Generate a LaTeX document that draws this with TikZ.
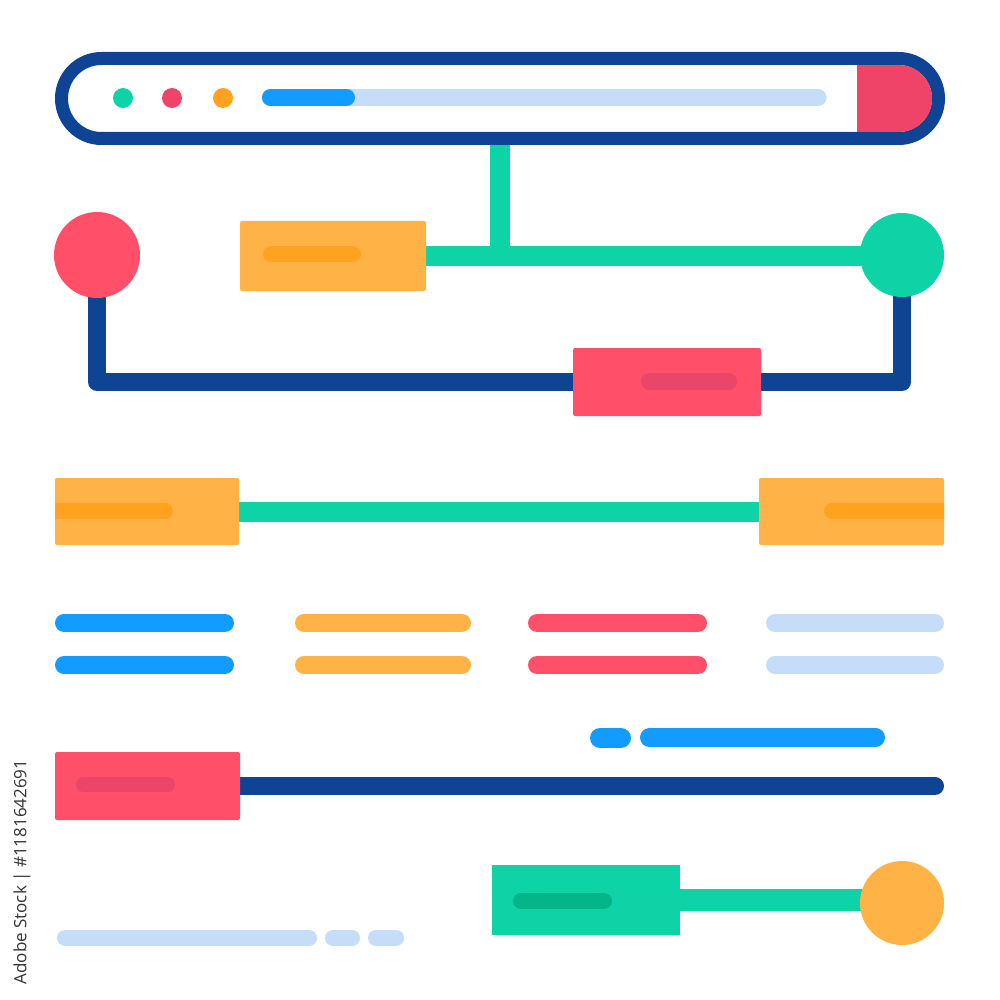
\documentclass[tikz,border=0pt]{standalone}
\usepackage{fontspec}
\newfontfamily\wmfont{Open Sans}
\usetikzlibrary{backgrounds}
\definecolor{navy}{HTML}{0E4493}
\definecolor{teal}{HTML}{0DD3A7}
\definecolor{redc}{HTML}{FF4F69}
\definecolor{orng}{HTML}{FFB347}
\definecolor{orngD}{HTML}{FFA21F}
\definecolor{blu}{HTML}{139CFF}
\definecolor{lblu}{HTML}{C6DDFA}
\definecolor{redD}{HTML}{E9466A}
\definecolor{tealD}{HTML}{03B589}
\definecolor{barred}{HTML}{EF4468}
\tikzset{
  box/.style={rectangle, inner sep=0pt, outer sep=0pt, rounded corners=2pt},
  dot/.style={circle, inner sep=0pt, outer sep=0pt},
  navyline/.style={draw=navy, line width=18pt, line join=round},
  tealline/.style={draw=teal, line width=20pt},
  pill/.style={line width=#1, line cap=round},
}
\begin{document}
\begin{tikzpicture}[x=1pt,y=-1pt]
\useasboundingbox (0,0) rectangle (1000,1000);
% browser bar
\node[box, draw=navy, fill=white, line width=13pt, minimum width=877pt, minimum height=80pt, rounded corners=40pt] (bar) at (500,98.5) {};
\begin{scope}
  \clip[rounded corners=33.5pt] (68,65) rectangle (932,132);
  \fill[barred] (857,65) rectangle (932,132);
\end{scope}
\node[dot, fill=teal, minimum size=20pt] (d1) at (123,98) {};
\node[dot, fill=barred, minimum size=20pt] (d2) at (172,98) {};
\node[dot, fill=orngD, minimum size=20pt] (d3) at (223,98) {};
\draw[pill=17pt, lblu] (270,97.5) -- (818,97.5);
\draw[pill=17pt, blu] (270.5,97.5) -- (346.5,97.5);
% first network
\node[box, fill=orng, minimum width=186pt, minimum height=70pt] (o1) at (333,256) {};
\draw[pill=16pt, orngD] (271,254) -- (353,254);
\node[dot, fill=redc, minimum size=86pt] (rc) at (97,255) {};
\node[dot, fill=teal, minimum size=84pt] (gc) at (902,255) {};
\node[box, fill=redc, minimum width=188pt, minimum height=68pt] (rb) at (667,382) {};
\draw[pill=17pt, redD] (649.5,381.5) -- (728.5,381.5);
% row with two orange boxes
\node[box, fill=orng, minimum width=184pt, minimum height=67pt] (ol) at (147,511.5) {};
\node[box, fill=orng, minimum width=185pt, minimum height=67pt] (or) at (851.5,511.5) {};
\begin{scope}
  \clip (ol.south west) rectangle (ol.north east);
  \draw[pill=16pt, orngD] (40,511) -- (165,511);
\end{scope}
\begin{scope}
  \clip (or.south west) rectangle (or.north east);
  \draw[pill=16pt, orngD] (832,511) -- (960,511);
\end{scope}
% bar rows
\foreach \y in {623,665}{
  \draw[pill=18pt, blu] (64,\y) -- (225,\y);
  \draw[pill=18pt, orng] (304,\y) -- (462,\y);
  \draw[pill=18pt, redc] (537,\y) -- (698,\y);
  \draw[pill=18pt, lblu] (775,\y) -- (935,\y);
}
% blue pills
\draw[pill=20pt, blu] (600,738) -- (621,738);
\draw[pill=19pt, blu] (649.5,737.5) -- (875.5,737.5);
% bottom red box and navy line
\node[box, fill=redc, minimum width=185pt, minimum height=68pt] (rb2) at (147.5,786) {};
\draw[pill=15pt, redD] (83.5,784.5) -- (167.5,784.5);
\coordinate (navyend) at (935,785);
% green box and orange circle
\node[box, fill=teal, minimum width=188pt, minimum height=70pt, rounded corners=0pt] (gb) at (586,900) {};
\draw[pill=16pt, tealD] (521,901) -- (604,901);
\node[dot, fill=orng, minimum size=84pt] (oc) at (902,903) {};
% light blue bars
\draw[pill=16pt, lblu] (65,938) -- (309,938);
\draw[pill=16pt, lblu] (333,938) -- (352,938);
\draw[pill=16pt, lblu] (376,938) -- (396,938);
% connectors
\begin{scope}[on background layer]
  \fill[white] (0,0) rectangle (1000,1000);
  \draw[tealline] (bar.south) -- (bar.south |- o1.east);
  \draw[tealline] (o1.center) -- (o1.center -| gc.center);
  \draw[navyline] (rc.center) |- (rb.center);
  \draw[navyline] (rb.center) -| (gc.center);
  \draw[tealline] (ol.center) -- (or.center);
  \draw[navy, line width=18pt, line cap=round] (rb2.center) -- (rb2.center -| navyend);
  \draw[teal, line width=22pt] (gb.center) -- (gb.center -| oc.center);
\end{scope}
% vertical text
\node[rotate=90, inner sep=0pt, text=black!80, font=\wmfont\fontsize{17}{19}\selectfont] (wm) at (22,872) {Adobe Stock | \#1181642691};
\end{tikzpicture}
\end{document}
